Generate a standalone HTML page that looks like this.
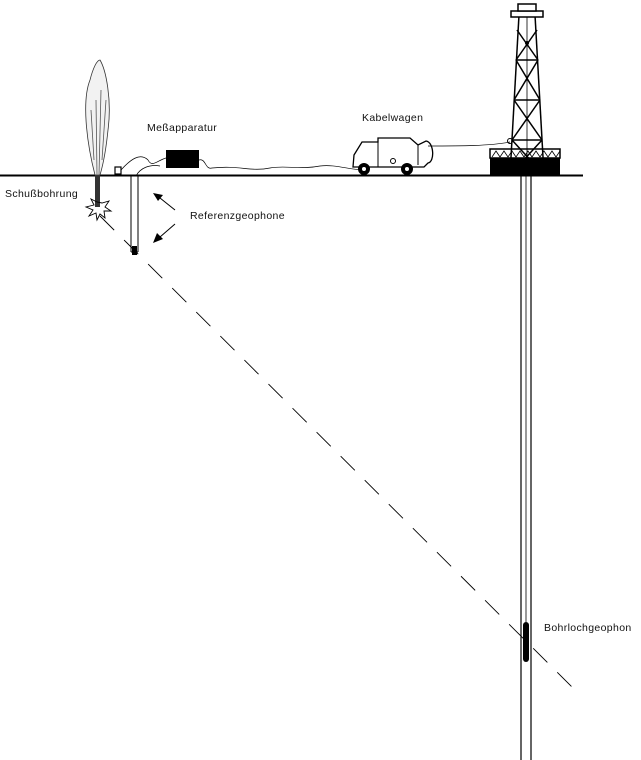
<!DOCTYPE html>
<html><head><meta charset="utf-8"><style>
html,body{margin:0;padding:0;background:#fff;}
svg{display:block}
text{font-family:"Liberation Sans",sans-serif;font-size:10.5px;letter-spacing:0.35px;fill:#111}
</style></head><body>
<svg width="641" height="760" viewBox="0 0 641 760" xmlns="http://www.w3.org/2000/svg">
<!-- ground -->
<line x1="0" y1="175.5" x2="583" y2="175.5" stroke="#000" stroke-width="2"/>
<!-- plume -->
<path d="M95,175 C86,140 82,100 90,80 C93,68 97,60 100,60 C106,70 112,100 108,130 C106,150 103,165 100,175 Z" fill="#f2f2f2" stroke="#333" stroke-width="0.8"/>
<path d="M97,175 L96,100 M99,175 L101,90 M94,160 L91,110 M102,160 L106,100" stroke="#555" stroke-width="0.8"/>
<!-- shot hole -->
<rect x="95" y="175" width="5" height="32" fill="#333"/>
<path d="M97,202 l-6,-3 l3,6 l-8,2 l7,3 l-4,6 l7,-3 l1,7 l3,-6 l5,4 l-1,-7 l7,0 l-6,-4 l4,-6 l-7,2 z" fill="none" stroke="#000" stroke-width="0.9"/>
<!-- dashed ray -->
<line x1="100" y1="216" x2="577" y2="692" stroke="#000" stroke-width="0.9" stroke-dasharray="20,14"/>
<!-- reference geophone pipe -->
<path d="M131,176 L131,252 M138,176 L138,252 M131,252 L138,252" stroke="#000" stroke-width="1" fill="none"/>
<rect x="132" y="246" width="5" height="9" fill="#000"/>
<rect x="115" y="167" width="6" height="7" fill="#fff" stroke="#000" stroke-width="1.2"/>
<!-- cables -->
<path d="M121,170 C130,160 140,152 148,160 C152,168 158,160 166,158" fill="none" stroke="#000" stroke-width="0.7"/>
<path d="M136,176 C140,168 150,164 160,166" fill="none" stroke="#000" stroke-width="0.7"/>
<path d="M199,160 C206,158 205,170 212,168 C240,165 250,172 270,168 C285,165 300,170 320,166 C335,164 350,170 365,170" fill="none" stroke="#000" stroke-width="0.7"/>
<rect x="166" y="150" width="33" height="18" fill="#000"/>
<!-- arrows -->
<line x1="175" y1="210" x2="160" y2="198" stroke="#000" stroke-width="1"/>
<polygon points="153,193 163,195 158,201" fill="#000"/>
<line x1="175" y1="224" x2="160" y2="237" stroke="#000" stroke-width="1"/>
<polygon points="153,243 157,233 163,239" fill="#000"/>
<!-- truck -->
<path d="M353,167 L354,155 L362,142 L378,142 L378,138 L410,138 L418,145 L426,141 C434,142 435,162 428,163 L424,167 Z" fill="#fff" stroke="#000" stroke-width="1.3"/>
<line x1="378" y1="142" x2="378" y2="167" stroke="#000" stroke-width="1"/>
<line x1="418" y1="145" x2="418" y2="165" stroke="#000" stroke-width="1"/>
<circle cx="393" cy="161" r="2.5" fill="none" stroke="#000"/>
<circle cx="364" cy="169" r="6" fill="#000"/><circle cx="364" cy="169" r="2" fill="#fff"/>
<circle cx="407" cy="169" r="6" fill="#000"/><circle cx="407" cy="169" r="2" fill="#fff"/>
<path d="M428,146 C460,146 490,146 510,142" fill="none" stroke="#000" stroke-width="0.7"/>
<!-- derrick base -->
<rect x="490" y="158" width="70" height="17" fill="#000"/>
<rect x="490" y="149" width="70" height="9" fill="#fff" stroke="#000" stroke-width="1.5"/>
<path d="M492,157 l4,-6 l4,6 l4,-6 l4,6 l4,-6 l4,6 l4,-6 l4,6 l4,-6 l4,6 l4,-6 l4,6 l4,-6 l4,6 l4,-6 l4,6 l4,-6" fill="none" stroke="#000" stroke-width="0.8"/>
<!-- derrick -->
<g stroke="#000" stroke-width="1.5" fill="none">
<line x1="510" y1="175" x2="519" y2="15"/>
<line x1="544" y1="175" x2="535" y2="15"/>
<line x1="516" y1="60" x2="538" y2="60"/><line x1="514" y1="100" x2="540" y2="100"/><line x1="512" y1="140" x2="542" y2="140"/>
<line x1="517" y1="30" x2="538" y2="60"/><line x1="537" y1="30" x2="516" y2="60"/>
<line x1="516" y1="60" x2="540" y2="100"/><line x1="538" y1="60" x2="514" y2="100"/>
<line x1="514" y1="100" x2="542" y2="140"/><line x1="540" y1="100" x2="512" y2="140"/>
<line x1="512" y1="140" x2="544" y2="175"/><line x1="542" y1="140" x2="510" y2="175"/>
<rect x="511" y="11" width="32" height="6" fill="#fff"/>
<rect x="518" y="4" width="18" height="7" fill="#fff"/>
</g>
<line x1="527" y1="17" x2="527" y2="175" stroke="#000" stroke-width="0.8"/>
<circle cx="527" cy="43" r="2" fill="#000"/>
<circle cx="510" cy="141" r="2.5" fill="none" stroke="#000"/>
<!-- borehole -->
<line x1="521" y1="175" x2="521" y2="760" stroke="#000" stroke-width="1.2"/>
<line x1="531" y1="175" x2="531" y2="760" stroke="#000" stroke-width="1.2"/>
<line x1="526" y1="175" x2="526" y2="622" stroke="#000" stroke-width="0.8"/>
<rect x="523" y="622" width="6" height="40" rx="3" fill="#000"/>
<!-- labels -->
<text x="147" y="131">Meßapparatur</text>
<text x="362" y="121">Kabelwagen</text>
<text x="5" y="197">Schußbohrung</text>
<text x="190" y="219">Referenzgeophone</text>
<text x="544" y="631">Bohrlochgeophon</text>
</svg>
</body></html>
